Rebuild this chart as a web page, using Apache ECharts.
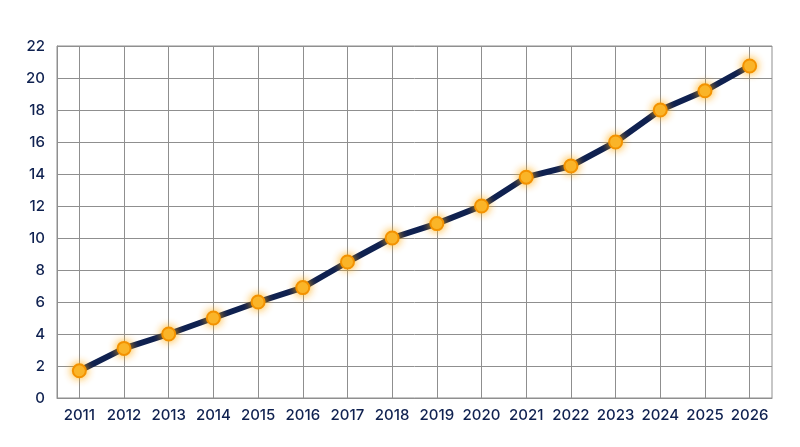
<!DOCTYPE html>
<html>
<head>
<meta charset="utf-8">
<script src="https://cdn.jsdelivr.net/npm/echarts@6/dist/echarts.min.js"></script>
<style>
  html, body { margin: 0; padding: 0; background: #fff; }
  #main { width: 800px; height: 447px; }
</style>
</head>
<body>
<div id="main"></div>
<script>
var years = ['2011', '2012', '2013', '2014', '2015', '2016', '2017', '2018',
  '2019', '2020', '2021', '2022', '2023', '2024', '2025', '2026']
var values = [1.7, 3.1, 4.0, 5.0, 6.0, 6.9, 8.5, 10.0, 10.9, 12.0, 13.8, 14.5, 16.0, 18.0, 19.2, 20.75]

var navy = '#0f2150'
var gridGray = '#8f8f8f'
var font = 'Inter'

var myChart = echarts.init(document.getElementById('main'))
var option = {
  backgroundColor: '#fff',
  animation: false,
  grid: {
    left: 57, right: 28, top: 46, bottom: 49,
    show: true, borderColor: gridGray, borderWidth: 1
  },
  xAxis: {
    type: 'category',
    data: years,
    boundaryGap: true,
    axisLine: { show: true, lineStyle: { color: gridGray, width: 1 } },
    axisTick: { show: false },
    axisLabel: { interval: 0, color: navy, fontSize: 15, fontWeight: 500, fontFamily: font, margin: 10 },
    splitLine: { show: true, interval: 0, alignWithLabel: true, lineStyle: { color: gridGray, width: 1 } }
  },
  yAxis: {
    type: 'value',
    min: 0, max: 22, interval: 2,
    axisLine: { show: true, lineStyle: { color: gridGray, width: 1 } },
    axisTick: { show: false },
    axisLabel: { color: navy, fontSize: 15, fontWeight: 500, fontFamily: font, margin: 12 },
    splitLine: { show: true, lineStyle: { color: gridGray, width: 1 } }
  },
  series: [{
    type: 'line',
    data: values,
    lineStyle: { color: navy, width: 6 },
    symbol: 'circle',
    symbolSize: 13,
    itemStyle: {
      color: '#f9b833',
      borderColor: '#f39200',
      borderWidth: 2,
      shadowColor: 'rgba(255, 170, 0, 0.9)',
      shadowBlur: 8
    },
    z: 3
  }]
}

option && myChart.setOption(option)
</script>
</body>
</html>
